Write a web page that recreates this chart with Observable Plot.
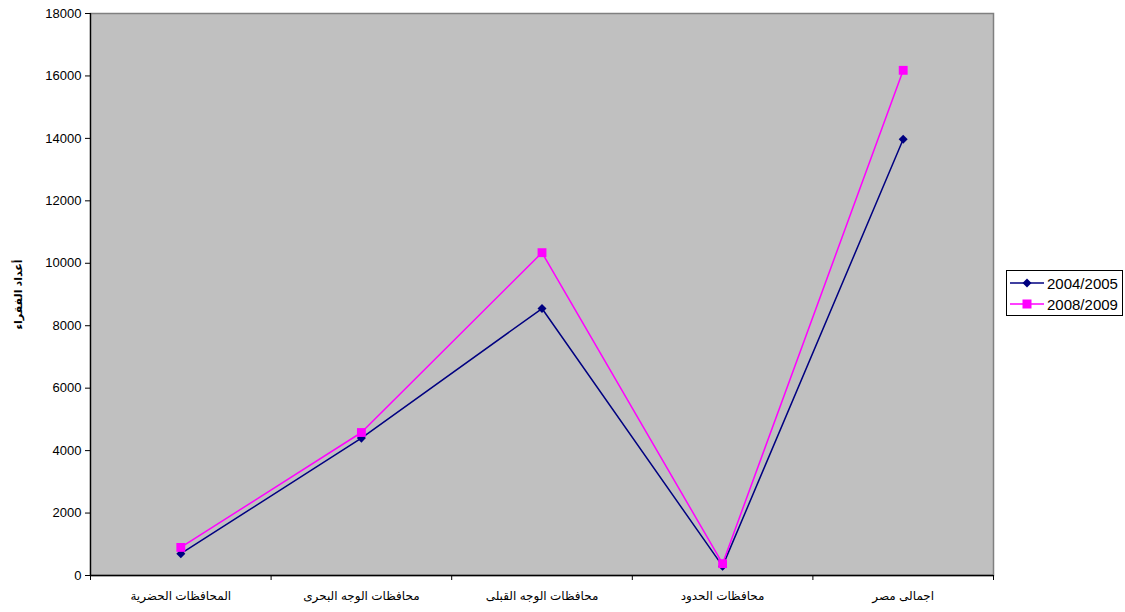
<!DOCTYPE html>
<html>
<head>
<meta charset="utf-8">
<script src="https://cdn.jsdelivr.net/npm/d3@7"></script>
<script src="https://cdn.jsdelivr.net/npm/@observablehq/plot@0.6"></script>
<style>
  body { margin: 0; background: #fff; }
  #wrap { position: relative; width: 1125px; height: 612px; font-family: "Liberation Sans", Arial, "DejaVu Sans", sans-serif; }
  #legend {
    position: absolute; left: 1006px; top: 270px; width: 117px; height: 46px;
    border: 1px solid #000; background: #fff; box-sizing: border-box;
    font-size: 15px; color: #000;
  }
  #legend .row { position: absolute; left: 3px; height: 18px; display: flex; align-items: center; }
  #legend .row span { margin-left: 3px; }
</style>
</head>
<body>
<div id="wrap"></div>
<script>
// Poor counts by governorate group, two survey rounds
const categories = ["المحافظات الحضرية", "محافظات الوجه البحرى", "محافظات الوجه القبلى", "محافظات الحدود", "اجمالى مصر"];
const values2004 = [700, 4400, 8550, 300, 13970];
const values2008 = [900, 4580, 10340, 380, 16180];
const seriesNames = ["2004/2005", "2008/2009"];
const seriesColors = ["#000080", "#FF00FF"];
const yTicks = [0, 2000, 4000, 6000, 8000, 10000, 12000, 14000, 16000, 18000];

// Each category sits in the middle of its slot; slot boundaries carry the tick marks
const slotEdges = d3.range(categories.length + 1);
const slotCenters = categories.map((_, i) => i + 0.5);

const rows = [];
categories.forEach((c, i) => {
  rows.push({ series: seriesNames[0], x: i + 0.5, y: values2004[i] });
  rows.push({ series: seriesNames[1], x: i + 0.5, y: values2008[i] });
});

// Square rotated 45° (diamond marker)
const diamond = {
  draw(context, size) {
    const h = Math.sqrt(size / 2);
    context.moveTo(0, -h);
    context.lineTo(h, 0);
    context.lineTo(0, h);
    context.lineTo(-h, 0);
    context.closePath();
  }
};

const chart = Plot.plot({
  width: 1125,
  height: 612,
  marginLeft: 90,
  marginRight: 132,
  marginTop: 13,
  marginBottom: 37,
  style: { fontFamily: "'Liberation Sans', Arial, 'DejaVu Sans', sans-serif", background: "transparent" },
  x: { type: "linear", domain: [0, categories.length], label: null },
  y: { domain: [0, 18000] },
  marks: [
    Plot.frame({ fill: "#c0c0c0", stroke: "#808080", strokeWidth: 1.5 }),
    Plot.ruleY([0], { stroke: "#000", strokeWidth: 1.3 }),
    Plot.ruleX([0], { stroke: "#000", strokeWidth: 1.3 }),
    Plot.axisY({
      ticks: yTicks, tickSize: 5, tickPadding: 4, fontSize: 13, stroke: "#000",
      label: "أعداد الفقراء", labelAnchor: "center", labelArrow: "none", labelOffset: 76,
      tickFormat: d => String(d)
    }),
    Plot.axisX({ ticks: slotEdges, tickSize: 5, tickFormat: () => "", stroke: "#000", label: null }),
    Plot.axisX({
      ticks: slotCenters, tickSize: 0, tickPadding: 16, fontSize: 12, label: null,
      tickFormat: d => categories[Math.round(d - 0.5)]
    }),
    Plot.line(rows, { x: "x", y: "y", z: "series", stroke: d => d.series === seriesNames[0] ? seriesColors[0] : seriesColors[1], strokeWidth: 1.5 }),
    Plot.dot(rows.filter(d => d.series === seriesNames[0]), { x: "x", y: "y", symbol: diamond, r: 3.6, fill: seriesColors[0], stroke: "none" }),
    Plot.dot(rows.filter(d => d.series === seriesNames[1]), { x: "x", y: "y", symbol: "square", r: 5, fill: seriesColors[1], stroke: "none" })
  ]
});

// y-axis label styling
d3.select(chart).selectAll("g[aria-label='y-axis label'] text")
  .attr("font-weight", "bold").attr("font-size", 11);

const wrap = document.getElementById("wrap");
wrap.appendChild(chart);

// Legend
const legend = document.createElement("div");
legend.id = "legend";
seriesNames.forEach((name, i) => {
  const row = document.createElement("div");
  row.className = "row";
  row.style.top = (3 + i * 21) + "px";
  const marker = i === 0
    ? `<path d="M17,4.5 L21.5,9 L17,13.5 L12.5,9 Z" fill="${seriesColors[i]}"/>`
    : `<rect x="12.5" y="4.5" width="9" height="9" fill="${seriesColors[i]}"/>`;
  row.innerHTML = `<svg width="34" height="18"><line x1="0" x2="34" y1="9" y2="9" stroke="${seriesColors[i]}" stroke-width="1.5"/>${marker}</svg><span>${name}</span>`;
  legend.appendChild(row);
});
wrap.appendChild(legend);
</script>
</body>
</html>
